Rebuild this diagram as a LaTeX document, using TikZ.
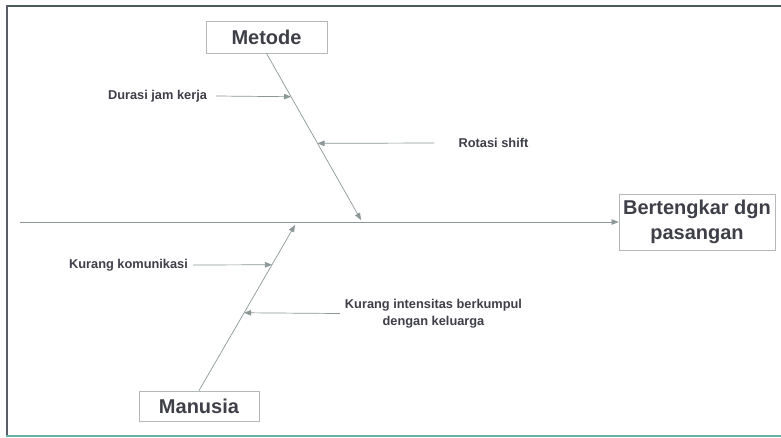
\documentclass[tikz,border=0pt]{standalone}
\usepackage{fontspec}
\setmainfont{Liberation Sans}
\usetikzlibrary{arrows.meta,calc}
\definecolor{inkgray}{HTML}{3E3F48}
\definecolor{linegray}{HTML}{8C9898}
\definecolor{boxgray}{HTML}{B4B8B8}
\definecolor{frametop}{HTML}{4C5C5A}
\definecolor{frameleft}{HTML}{5A5C68}
\definecolor{framebottom}{HTML}{6AAEAA}
\begin{document}
\begin{tikzpicture}[x=1pt,y=-1pt,
  catbox/.style={draw=boxgray,line width=0.8pt,fill=white,text=inkgray,
    font=\fontsize{20}{25}\selectfont\bfseries,align=center,inner sep=0pt},
  cause/.style={text=inkgray,font=\fontsize{12.8}{17}\selectfont\bfseries,
    align=center,inner sep=0pt},
  bone/.style={draw=linegray,line width=0.7pt,
    -{Triangle[length=7pt,width=5.5pt]},shorten >=0pt},
  twig/.style={draw=linegray,line width=0.7pt,
    -{Triangle[length=7pt,width=5.5pt]}}]
  \useasboundingbox (0,0) rectangle (781,437);
  \fill[white] (0,0) rectangle (781,437);

  % outer frame
  \draw[frametop,line width=2.2pt] (6,6) -- (781,6);
  \draw[frameleft,line width=2.6pt] (7,5) -- (7,436);
  \draw[framebottom,line width=2pt] (6,435.5) -- (781,435.5);

  % category and effect boxes
  \node[catbox,minimum width=121pt,minimum height=32pt] (metode) at (266.5,37) {Metode};
  \node[catbox,minimum width=120pt,minimum height=30pt] (manusia) at (199,406) {Manusia};
  \node[catbox,minimum width=156pt,minimum height=56pt] (effect) at (697,222)
    {Bertengkar dgn\\pasangan};

  % spine and bone tips
  \coordinate (tail) at (20,222);
  \coordinate (mtip) at (361,220);
  \coordinate (htip) at (295,225);
  \draw[bone] (tail) -- (effect.west);
  \draw[bone] (metode.south) -- (mtip);
  \draw[bone] (manusia.north) -- (htip);

  % causes
  \node[cause] (durasi) at (157.5,96) {Durasi jam kerja};
  \node[cause] (rotasi) at (493.5,143) {Rotasi shift};
  \node[cause] (komunikasi) at (128.5,265) {Kurang komunikasi};
  \node[cause] (intensitas) at (433.5,313.5) {Kurang intensitas berkumpul\\dengan keluarga};

  \draw[twig] ([xshift=9pt]durasi.east) -- ($(metode.south)!0.26!(mtip)$);
  \draw[twig] ([xshift=-24pt]rotasi.west) -- ($(metode.south)!0.54!(mtip)$);
  \draw[twig] ([xshift=5pt]komunikasi.east) -- ($(manusia.north)!0.76!(htip)$);
  \draw[twig] ([xshift=-5pt]intensitas.west) -- ($(manusia.north)!0.47!(htip)$);
\end{tikzpicture}
\end{document}
